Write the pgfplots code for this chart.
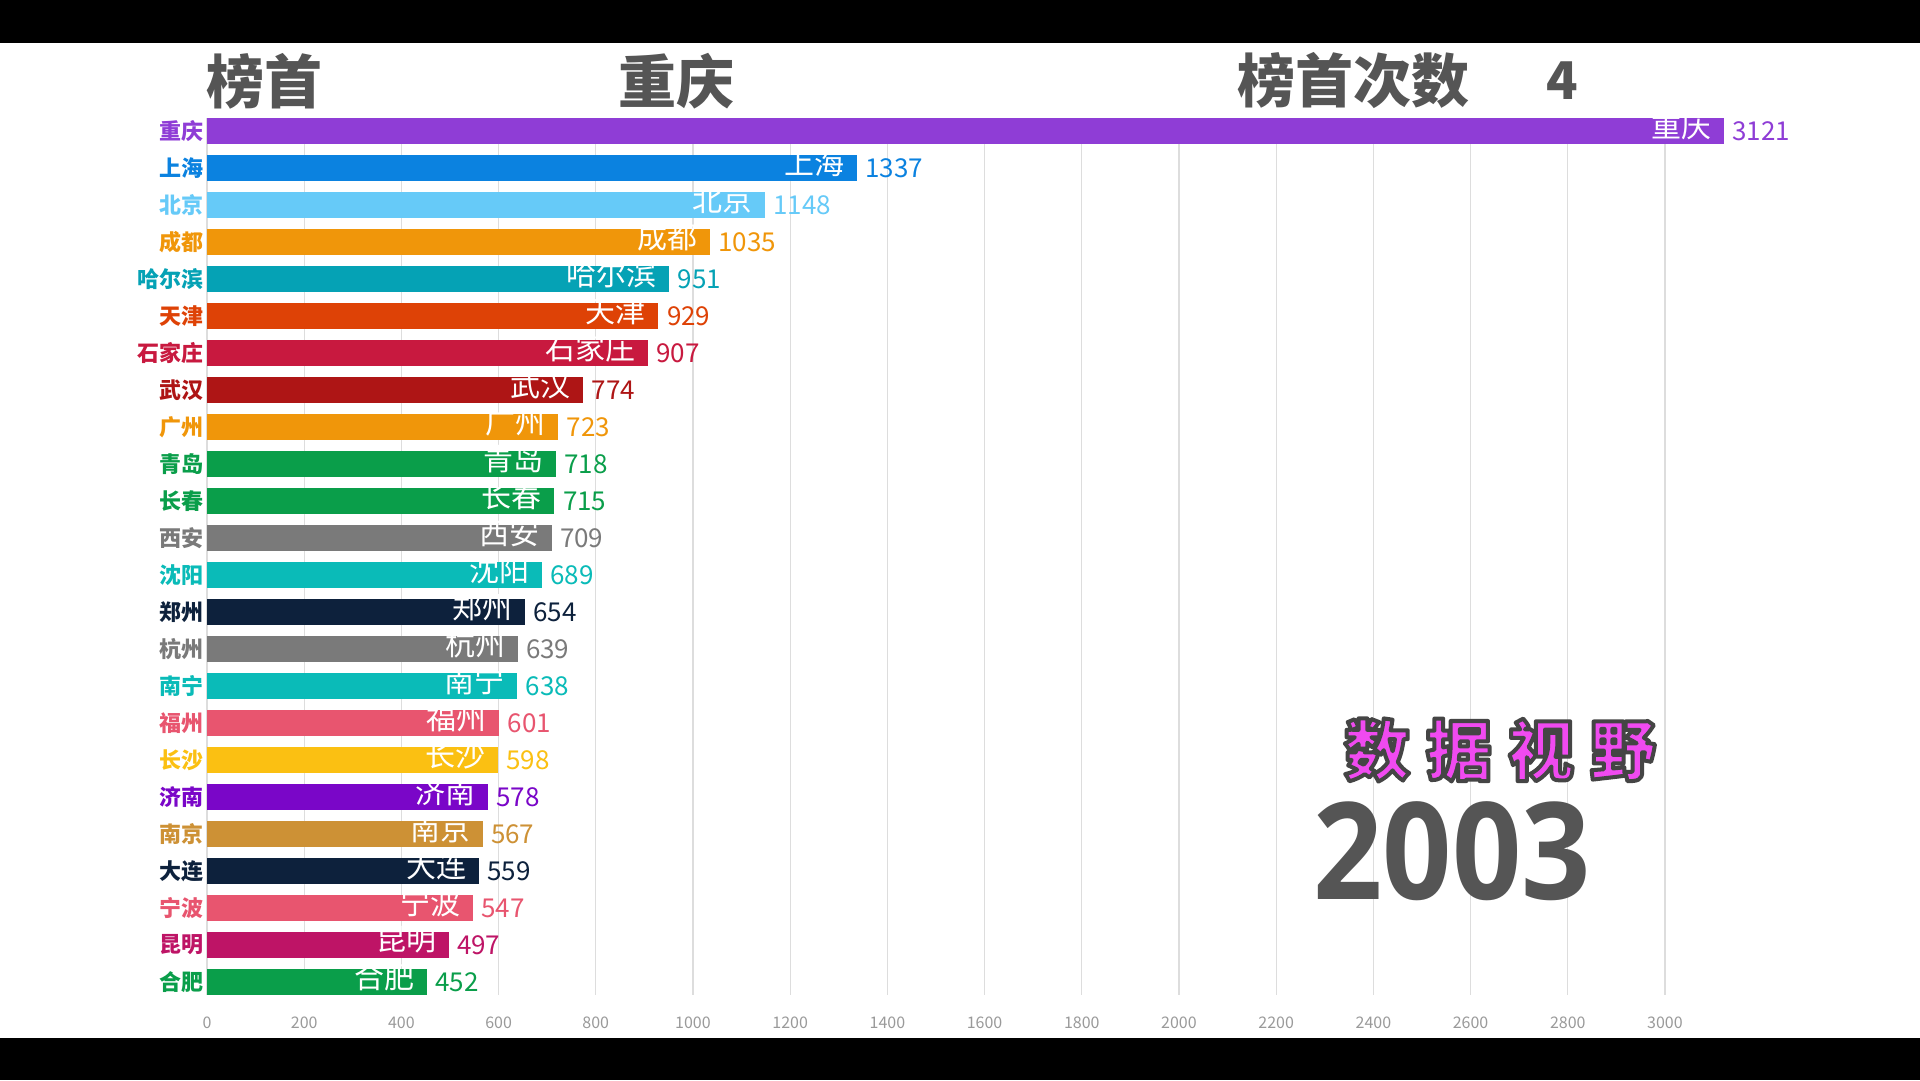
\documentclass[border=0pt]{standalone}
\usepackage{pgfplots}
\pgfplotsset{compat=1.18}
\usepackage{fontspec}
\setmainfont{Noto Sans CJK SC}
\newfontfamily\yearfont{Open Sans}

\definecolor{cPurple}{HTML}{8F3DD6}
\definecolor{cBlue}{HTML}{0B82E0}
\definecolor{cLBlue}{HTML}{66CAF8}
\definecolor{cOrange}{HTML}{F0960A}
\definecolor{cTeal}{HTML}{05A2B5}
\definecolor{cRedOr}{HTML}{DE4206}
\definecolor{cCrimson}{HTML}{C8193F}
\definecolor{cDRed}{HTML}{AE1515}
\definecolor{cGreen}{HTML}{0A9E4A}
\definecolor{cGray}{HTML}{7A7A7A}
\definecolor{cCyan}{HTML}{0ABBB8}
\definecolor{cNavy}{HTML}{0D213C}
\definecolor{cPink}{HTML}{E8556F}
\definecolor{cYellow}{HTML}{FBC012}
\definecolor{cViolet}{HTML}{7A06C8}
\definecolor{cTan}{HTML}{CD9135}
\definecolor{cMagenta}{HTML}{BE1466}
\definecolor{titlegray}{HTML}{555555}
\definecolor{tickgray}{HTML}{9A9A9A}
\definecolor{gridgray}{HTML}{DDDDDD}
\definecolor{wmfill}{HTML}{F04AF0}

% row, value, colour, name
\newcommand{\cbar}[4]{%
  \addplot[xbar, bar width=26pt, bar shift=0pt, fill=#3, draw=none,
    nodes near coords, point meta=x,
    nodes near coords style={text=#3, anchor=west, xshift=5pt,
      font=\fontsize{26}{26}\selectfont}]
    coordinates {(#2,#1)};
  \addplot[draw=none, mark=none, point meta=x,
    nodes near coords={#4},
    nodes near coords style={text=white, anchor=east, xshift=-9pt, yshift=5pt,
      font=\fontsize{30}{30}\selectfont}]
    coordinates {(#2,#1)};
}

\newcommand{\wm}{数\hspace{16pt}据\hspace{16pt}视\hspace{16pt}野}

\begin{document}
\begin{tikzpicture}
\useasboundingbox (0,0) rectangle (1920pt,1080pt);
\fill[white] (0,0) rectangle (1920pt,1080pt);
\fill[black] (0,0) rectangle (1920pt,42pt);
\fill[black] (0,1037pt) rectangle (1920pt,1080pt);

\begin{axis}[
  at={(207pt,85pt)}, anchor=south west,
  scale only axis,
  width=1652.4pt, height=876.9pt,
  xmin=0, xmax=3400,
  ymin=0.65, ymax=24.35,
  y dir=reverse,
  clip=false,
  axis line style={draw=none},
  major tick length=0pt,
  xtick={0,200,...,3000},
  xmajorgrids,
  grid style={color=gridgray, line width=1.2pt},
  /pgf/number format/assume math mode=true,
  /pgf/number format/1000 sep={},
  xticklabel style={text=tickgray, font=\fontsize{16}{16}\selectfont, yshift=-18pt},
  ytick={1,...,24},
  yticklabels={
    \textcolor{cPurple}{重庆},\textcolor{cBlue}{上海},\textcolor{cLBlue}{北京},
    \textcolor{cOrange}{成都},\textcolor{cTeal}{哈尔滨},\textcolor{cRedOr}{天津},
    \textcolor{cCrimson}{石家庄},\textcolor{cDRed}{武汉},\textcolor{cOrange}{广州},
    \textcolor{cGreen}{青岛},\textcolor{cGreen}{长春},\textcolor{cGray}{西安},
    \textcolor{cCyan}{沈阳},\textcolor{cNavy}{郑州},\textcolor{cGray}{杭州},
    \textcolor{cCyan}{南宁},\textcolor{cPink}{福州},\textcolor{cYellow}{长沙},
    \textcolor{cViolet}{济南},\textcolor{cTan}{南京},\textcolor{cNavy}{大连},
    \textcolor{cPink}{宁波},\textcolor{cMagenta}{昆明},\textcolor{cGreen}{合肥}},
  yticklabel style={font=\fontsize{22}{22}\selectfont\bfseries},
]
\cbar{1}{3121}{cPurple}{重庆}
\cbar{2}{1337}{cBlue}{上海}
\cbar{3}{1148}{cLBlue}{北京}
\cbar{4}{1035}{cOrange}{成都}
\cbar{5}{951}{cTeal}{哈尔滨}
\cbar{6}{929}{cRedOr}{天津}
\cbar{7}{907}{cCrimson}{石家庄}
\cbar{8}{774}{cDRed}{武汉}
\cbar{9}{723}{cOrange}{广州}
\cbar{10}{718}{cGreen}{青岛}
\cbar{11}{715}{cGreen}{长春}
\cbar{12}{709}{cGray}{西安}
\cbar{13}{689}{cCyan}{沈阳}
\cbar{14}{654}{cNavy}{郑州}
\cbar{15}{639}{cGray}{杭州}
\cbar{16}{638}{cCyan}{南宁}
\cbar{17}{601}{cPink}{福州}
\cbar{18}{598}{cYellow}{长沙}
\cbar{19}{578}{cViolet}{济南}
\cbar{20}{567}{cTan}{南京}
\cbar{21}{559}{cNavy}{大连}
\cbar{22}{547}{cPink}{宁波}
\cbar{23}{497}{cMagenta}{昆明}
\cbar{24}{452}{cGreen}{合肥}
\end{axis}

% titles
\node[anchor=west, text=titlegray, font=\fontsize{58}{58}\selectfont\bfseries, inner sep=0pt] at (206pt,999pt) {榜首};
\node[anchor=west, text=titlegray, font=\fontsize{58}{58}\selectfont\bfseries, inner sep=0pt] at (618pt,999pt) {重庆};
\node[anchor=west, text=titlegray, font=\fontsize{58}{58}\selectfont\bfseries, inner sep=0pt] at (1237pt,999pt) {榜首次数};
\node[text=titlegray, font=\fontsize{52}{52}\selectfont\bfseries, inner sep=0pt] at (1562pt,999pt) {4};

% watermark: magenta fill with dark outline (text render mode 2)
\node[text=wmfill, font=\fontsize{66}{66}\selectfont\bfseries, inner sep=0pt] at (1500pt,330pt)
  {\special{pdf:literal direct 2 Tr 4 w 1 j 0.27 0.27 0.27 RG}\wm\special{pdf:literal direct 0 Tr}};

% year
\node[text=titlegray, font=\yearfont\bfseries\fontsize{135}{135}\selectfont, inner sep=0pt] at (1452pt,229pt) {\scalebox{0.9}[1]{2003}};
\end{tikzpicture}
\end{document}
